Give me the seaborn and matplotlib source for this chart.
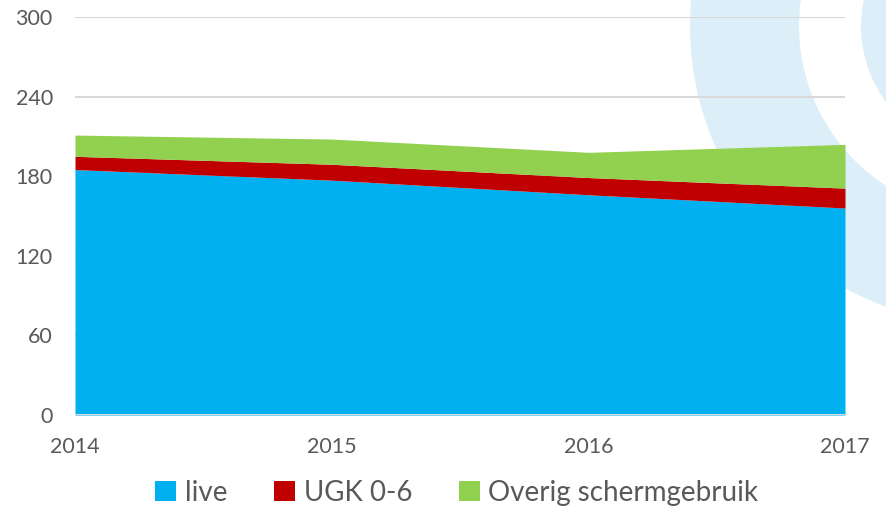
import numpy as np
import pandas as pd
import seaborn as sns
import matplotlib.pyplot as plt
from matplotlib.patches import Circle

# data
years = [2014, 2015, 2016, 2017]
live = [185, 177, 166, 156]
ugk = [10, 12, 13, 15]
overig = [16, 19, 19, 33]
labels = ['live', 'UGK 0-6', 'Overig schermgebruik']
colors = ['#00B0F0', '#C00000', '#92D050']
yticks = [0, 60, 120, 180, 240, 300]

sns.set_theme(style='white')
plt.rcParams['font.family'] = ['Lato', 'DejaVu Sans']

fig = plt.figure(figsize=(8.87, 5.09), dpi=100)
W, H = 887, 509

# watermark rings in the background (display pixels)
for r, c in ((299, '#DCEEF8'), (190, 'white'), (128, '#DCEEF8')):
    fig.patches.append(Circle((989, H - 26), r, transform=None,
                              facecolor=c, edgecolor='none', zorder=-5))

ax = fig.add_axes([75 / W, (H - 415) / H, 770 / W, 398 / H])
ax.patch.set_alpha(0)
ax.set_zorder(1)

df = pd.DataFrame({'year': years, labels[0]: live, labels[1]: ugk, labels[2]: overig})
ax.stackplot(df['year'], df[labels[0]], df[labels[1]], df[labels[2]],
             labels=labels, colors=colors, linewidth=0, zorder=3)

ax.set_xlim(2014, 2017)
ax.set_ylim(0, 300)
ax.set_xticks(years)
ax.set_yticks(yticks)
ax.yaxis.grid(True, color='#D9D9D9', linewidth=1.5, zorder=0)
ax.set_axisbelow(True)
sns.despine(ax=ax, left=True, bottom=True, top=True, right=True)
ax.tick_params(axis='y', labelsize=15.5, labelcolor='#595959', pad=16, length=0)
ax.tick_params(axis='x', labelsize=15.5, labelcolor='#595959', pad=16, length=0)
ax.axhline(0, color='#D9D9D9', linewidth=1.5, zorder=4)

leg = fig.legend(loc='center', bbox_to_anchor=(457 / W, (H - 493) / H), ncol=3,
                 frameon=False, fontsize=20, handlelength=0.75, handleheight=0.75,
                 handletextpad=0.3, columnspacing=1.7, labelcolor='#595959')

fig.savefig('out.png', dpi=100)
